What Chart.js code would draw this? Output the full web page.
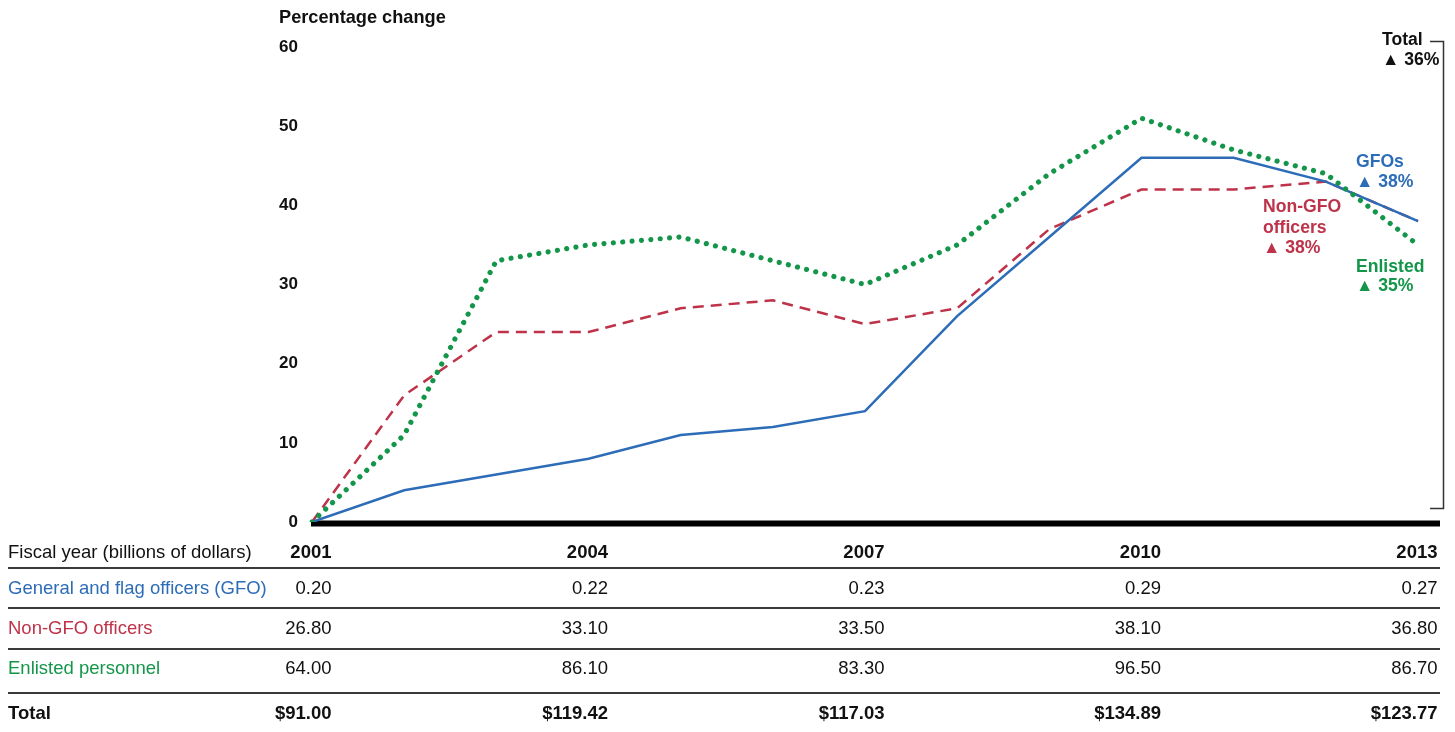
<!DOCTYPE html>
<html>
<head>
<meta charset="utf-8">
<script src="https://cdn.jsdelivr.net/npm/chart.js@4/dist/chart.umd.min.js"></script>
<style>
html,body{margin:0;padding:0;background:#fff;}
#wrap{position:relative;width:1455px;height:732px;overflow:hidden;font-family:"Liberation Sans",Arial,Helvetica,sans-serif;color:#111;}
#c{position:absolute;left:0;top:0;}
.lbl{position:absolute;font-weight:bold;font-size:17.6px;line-height:20px;white-space:nowrap;}
.cell{position:absolute;font-size:18.5px;line-height:22px;white-space:nowrap;}
.rule{position:absolute;left:8px;width:1432px;height:2px;background:#3a3a3a;}
.b{font-weight:bold;}
</style>
</head>
<body>
<div id="wrap">
<canvas id="c" width="1455" height="732"></canvas>
</div>
<script>
// ---- data ----
const years = ['2001','2002','2003','2004','2005','2006','2007','2008','2009','2010','2011','2012','2013'];
const gfoPct      = [0, 4, 6, 8, 11, 12, 14, 26, 36, 46, 46, 43, 38];
const nonGfoPct   = [0, 16, 24, 24, 27, 28, 25, 27, 37, 42, 42, 43, 38];
const enlistedPct = [0, 11, 33, 35, 36, 33, 30, 35, 44, 51, 47, 44, 35];
const yTicks = [0, 10, 20, 30, 40, 50, 60];

const tableYears       = ['2001','2004','2007','2010','2013'];
const gfoDollars       = [0.20, 0.22, 0.23, 0.29, 0.27];
const nonGfoDollars    = [26.80, 33.10, 33.50, 38.10, 36.80];
const enlistedDollars  = [64.00, 86.10, 83.30, 96.50, 86.70];
const totalDollars     = [91.00, 119.42, 117.03, 134.89, 123.77];

const seriesLabels = ['GFOs', 'Non-GFO officers', 'Enlisted'];
const endChanges = ['38%', '38%', '35%'];
const totalChange = '36%';

// ---- styles ----
const BLUE = '#2d6db8';
const RED = '#be3349';
const GREEN = '#14964a';
const FONT = '"Liberation Sans", Arial, Helvetica, sans-serif';

const baselinePlugin = {
  id: 'baseline',
  beforeDatasetsDraw(chart) {
    const ctx = chart.ctx;
    const y = chart.scales.y.getPixelForValue(0) + 1.5;
    ctx.save();
    ctx.strokeStyle = '#000';
    ctx.lineWidth = 6;
    ctx.beginPath();
    ctx.moveTo(chart.chartArea.left - 1, y);
    ctx.lineTo(1440, y);
    ctx.stroke();
    // total bracket
    ctx.strokeStyle = '#333';
    ctx.lineWidth = 1.5;
    ctx.beginPath();
    ctx.moveTo(1430, 41.5);
    ctx.lineTo(1443.5, 41.5);
    ctx.lineTo(1443.5, 508.5);
    ctx.lineTo(1430, 508.5);
    ctx.stroke();
    ctx.restore();
  }
};

const chart = new Chart(document.getElementById('c'), {
  type: 'line',
  data: {
    labels: years,
    datasets: [
      { label: 'Enlisted', data: enlistedPct, borderColor: GREEN, borderWidth: 5.2,
        borderDash: [0.01, 9.4], borderCapStyle: 'round', pointRadius: 0, tension: 0, fill: false },
      { label: 'GFOs', data: gfoPct, borderColor: BLUE, borderWidth: 2.5,
        pointRadius: 0, tension: 0, fill: false },
      { label: 'Non-GFO officers', data: nonGfoPct, borderColor: RED, borderWidth: 2.5,
        borderDash: [11, 7], pointRadius: 0, tension: 0, fill: false }
    ]
  },
  options: {
    responsive: false,
    animation: false,
    events: [],
    layout: { padding: { left: 252, right: 37, top: 47, bottom: 210 } },
    plugins: { legend: { display: false }, tooltip: { enabled: false } },
    scales: {
      x: { display: false, offset: false },
      y: {
        min: 0, max: 60,
        afterFit(scale) { scale.width = 60; },
        afterBuildTicks(scale) { scale.ticks = yTicks.map(v => ({ value: v })); },
        grid: { display: false, drawTicks: false },
        border: { display: false },
        ticks: { padding: 14, color: '#111', font: { family: FONT, size: 17, weight: 'bold' } }
      }
    }
  },
  plugins: [baselinePlugin]
});

// ---- HTML text: annotations and table ----
const wrap = document.getElementById('wrap');
function addDiv(cls, text, style) {
  const d = document.createElement('div');
  d.className = cls;
  d.textContent = text;
  Object.assign(d.style, style);
  wrap.appendChild(d);
  return d;
}

addDiv('lbl', 'Percentage change', { left: '279px', top: '7px', fontSize: '18.2px' });
addDiv('lbl', 'Total', { left: '1382px', top: '29px', color: '#111' });
addDiv('lbl', '\u25B2 ' + totalChange, { left: '1382px', top: '49px', color: '#111' });

addDiv('lbl', seriesLabels[0], { left: '1356px', top: '151px', color: BLUE });
addDiv('lbl', '\u25B2 ' + endChanges[0], { left: '1356px', top: '171px', color: BLUE });

addDiv('lbl', 'Non-GFO', { left: '1263px', top: '196px', color: RED });
addDiv('lbl', 'officers', { left: '1263px', top: '217px', color: RED });
addDiv('lbl', '\u25B2 ' + endChanges[1], { left: '1263px', top: '237px', color: RED });

addDiv('lbl', seriesLabels[2], { left: '1356px', top: '256px', color: GREEN });
addDiv('lbl', '\u25B2 ' + endChanges[2], { left: '1356px', top: '275px', color: GREEN });

// table
const xs = chart.scales.x;
const rows = [
  { label: 'Fiscal year (billions of dollars)', color: '#111', vals: tableYears, bold: true, labelBold: false, y: 552 },
  { label: 'General and flag officers (GFO)', color: BLUE, vals: gfoDollars.map(v => v.toFixed(2)), bold: false, y: 588 },
  { label: 'Non-GFO officers', color: RED, vals: nonGfoDollars.map(v => v.toFixed(2)), bold: false, y: 628 },
  { label: 'Enlisted personnel', color: GREEN, vals: enlistedDollars.map(v => v.toFixed(2)), bold: false, y: 668 },
  { label: 'Total', color: '#111', vals: totalDollars.map(v => '$' + v.toFixed(2)), bold: true, labelBold: true, y: 713 }
];
rows.forEach(r => {
  const l = addDiv('cell', r.label, { left: '8px', top: (r.y - 11) + 'px', color: r.color });
  if (r.labelBold) l.classList.add('b');
  r.vals.forEach((v, i) => {
    const px = xs.getPixelForValue(years.indexOf(tableYears[i]));
    const c = addDiv('cell', v, { right: (1455 - (px + 19.5)) + 'px', top: (r.y - 11) + 'px', color: '#111', textAlign: 'right' });
    if (r.bold) c.classList.add('b');
  });
});
[567, 607, 648, 692].forEach(y => {
  const d = document.createElement('div');
  d.className = 'rule';
  d.style.top = y + 'px';
  wrap.appendChild(d);
});
</script>
</body>
</html>
